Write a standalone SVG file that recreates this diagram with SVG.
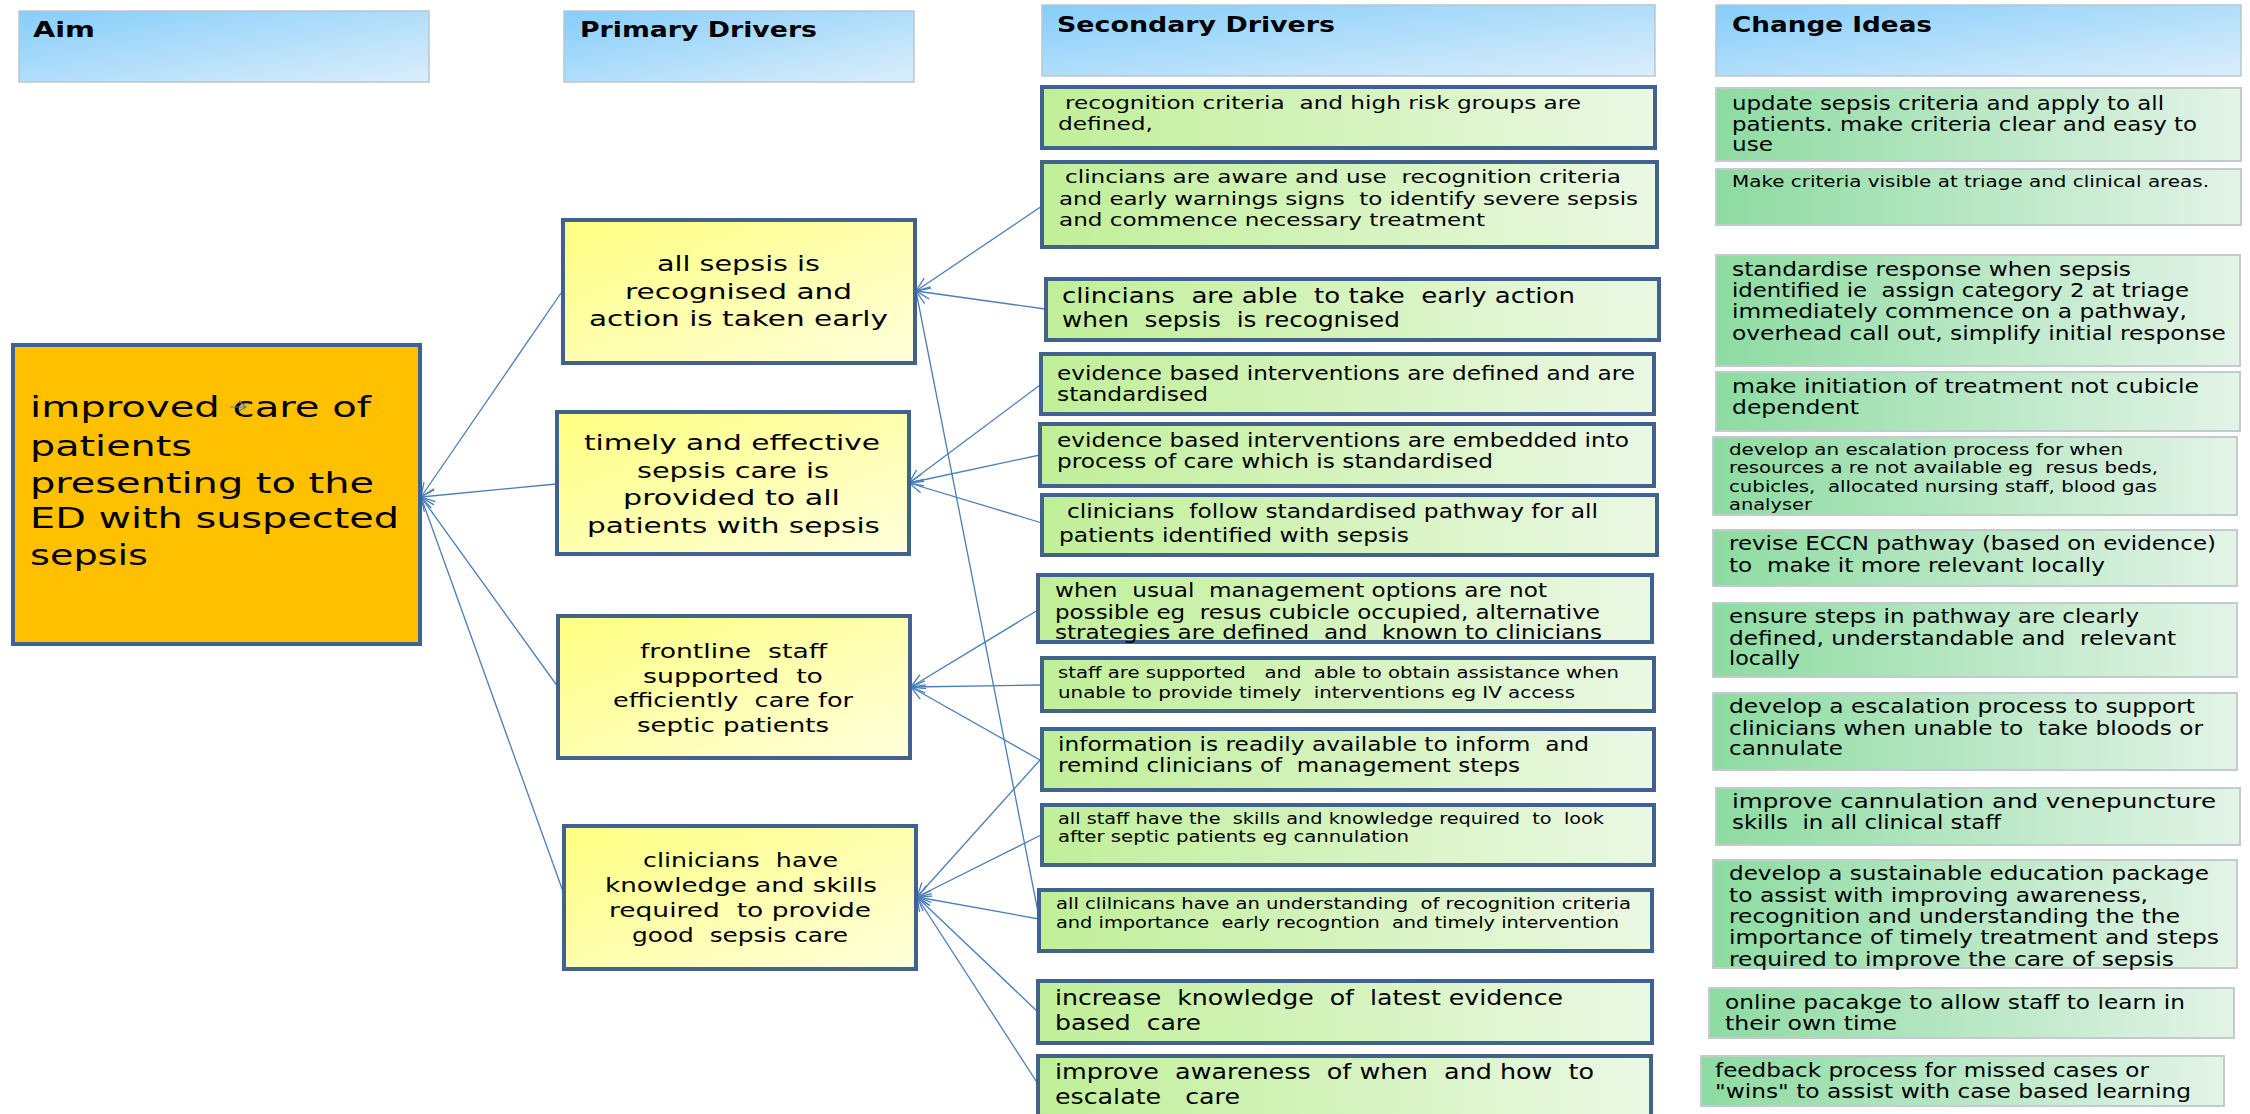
<svg xmlns="http://www.w3.org/2000/svg" width="2250" height="1114" viewBox="0 0 2250 1114">
<style>
text{font-family:"DejaVu Sans","Liberation Sans",sans-serif;fill:#000;white-space:pre}
.h{font-weight:bold;font-size:21px}
.hdr{fill:url(#gh);stroke:#b9c6cf;stroke-width:1.5}
.aim{fill:#ffc000;stroke:#41618f;stroke-width:4}
.pri{fill:url(#gp);stroke:#41618f;stroke-width:4}
.sec{fill:url(#gs);stroke:#41618f;stroke-width:4}
.chg{fill:url(#gc);stroke:#c3cbcf;stroke-width:2}
.c{fill:none;stroke:#4a7ebb;stroke-width:1.3;marker-end:url(#ah)}
</style>
<defs>
<linearGradient id="gh" x1="0" y1="0" x2="1" y2="1"><stop offset="0" stop-color="#86cdfa"/><stop offset="1" stop-color="#dbeefb"/></linearGradient>
<linearGradient id="gp" x1="0" y1="0" x2="1" y2="1"><stop offset="0" stop-color="#ffff80"/><stop offset="1" stop-color="#ffffdc"/></linearGradient>
<linearGradient id="gs" x1="0" y1="0" x2="1" y2="0"><stop offset="0" stop-color="#c0ef98"/><stop offset="1" stop-color="#ebf8e4"/></linearGradient>
<linearGradient id="gc" x1="0" y1="0" x2="1" y2="0"><stop offset="0" stop-color="#8ddba1"/><stop offset="1" stop-color="#e3f4e7"/></linearGradient>
<marker id="ah" markerUnits="userSpaceOnUse" markerWidth="16" markerHeight="14" viewBox="0 0 16 14" refX="15" refY="7" orient="auto"><path d="M1,1 L15,7 L1,13" fill="none" stroke="#4a7ebb" stroke-width="1.3"/></marker>
</defs>

<g id="connectors">
<line class="c" x1="561" y1="293" x2="421" y2="497"/>
<line class="c" x1="556" y1="484" x2="421" y2="497"/>
<line class="c" x1="558" y1="687" x2="421" y2="497"/>
<line class="c" x1="565" y1="897" x2="421" y2="497"/>
<line class="c" x1="1042" y1="206" x2="916" y2="291"/>
<line class="c" x1="1045" y1="309" x2="916" y2="291"/>
<line class="c" x1="1038" y1="912" x2="916" y2="291"/>
<line class="c" x1="1040" y1="385" x2="909" y2="483"/>
<line class="c" x1="1040" y1="455" x2="909" y2="483"/>
<line class="c" x1="1042" y1="523" x2="909" y2="483"/>
<line class="c" x1="1038" y1="610" x2="911" y2="687"/>
<line class="c" x1="1041" y1="685" x2="911" y2="687"/>
<line class="c" x1="1040" y1="760" x2="911" y2="687"/>
<line class="c" x1="1040" y1="760" x2="917" y2="897"/>
<line class="c" x1="1041" y1="835" x2="917" y2="897"/>
<line class="c" x1="1039" y1="919" x2="917" y2="897"/>
<line class="c" x1="1038" y1="1012" x2="917" y2="897"/>
<line class="c" x1="1038" y1="1084" x2="917" y2="897"/>
</g>

<g id="hdr-aim"><rect class="hdr" x="19" y="11" width="410" height="71"/><text class="h" x="33" y="37" textLength="62" lengthAdjust="spacingAndGlyphs">Aim</text></g>
<g id="hdr-primary"><rect class="hdr" x="564" y="11" width="350" height="71"/><text class="h" x="580" y="37" textLength="237" lengthAdjust="spacingAndGlyphs">Primary Drivers</text></g>
<g id="hdr-secondary"><rect class="hdr" x="1042" y="5" width="613" height="71"/><text class="h" x="1057" y="32" textLength="278" lengthAdjust="spacingAndGlyphs">Secondary Drivers</text></g>
<g id="hdr-change"><rect class="hdr" x="1716" y="5" width="525" height="71"/><text class="h" x="1732" y="32" textLength="200" lengthAdjust="spacingAndGlyphs">Change Ideas</text></g>

<g id="aim" font-size="29">
<rect class="aim" x="13" y="345" width="407" height="299"/>
<text x="30" y="417" textLength="341" lengthAdjust="spacingAndGlyphs">improved care of</text>
<text x="30" y="456" textLength="162" lengthAdjust="spacingAndGlyphs">patients</text>
<text x="30" y="493" textLength="344" lengthAdjust="spacingAndGlyphs">presenting to the</text>
<text x="30" y="528" textLength="369" lengthAdjust="spacingAndGlyphs">ED with suspected</text>
<text x="30" y="565" textLength="118" lengthAdjust="spacingAndGlyphs">sepsis</text>
<path d="M230,407 H246 M239,401 L246,407 L239,411" fill="none" stroke="#4a7ebb" stroke-width="1.2"/>
</g>

<g id="p1" font-size="21">
<rect class="pri" x="563" y="220" width="352" height="143"/>
<text x="657" y="271" textLength="163" lengthAdjust="spacingAndGlyphs">all sepsis is</text>
<text x="625" y="299" textLength="227" lengthAdjust="spacingAndGlyphs">recognised and</text>
<text x="589" y="326" textLength="299" lengthAdjust="spacingAndGlyphs">action is taken early</text>
</g>
<g id="p2" font-size="21">
<rect class="pri" x="557" y="412" width="352" height="142"/>
<text x="584" y="450" textLength="296" lengthAdjust="spacingAndGlyphs">timely and effective</text>
<text x="637" y="478" textLength="192" lengthAdjust="spacingAndGlyphs">sepsis care is</text>
<text x="623" y="505" textLength="217" lengthAdjust="spacingAndGlyphs">provided to all</text>
<text x="587" y="533" textLength="293" lengthAdjust="spacingAndGlyphs">patients with sepsis</text>
</g>
<g id="p3" font-size="20">
<rect class="pri" x="558" y="616" width="352" height="142"/>
<text x="640" y="658" textLength="187" lengthAdjust="spacingAndGlyphs">frontline  staff</text>
<text x="643" y="683" textLength="180" lengthAdjust="spacingAndGlyphs">supported  to</text>
<text x="613" y="707" textLength="240" lengthAdjust="spacingAndGlyphs">efficiently  care for</text>
<text x="637" y="732" textLength="192" lengthAdjust="spacingAndGlyphs">septic patients</text>
</g>
<g id="p4" font-size="20">
<rect class="pri" x="564" y="826" width="352" height="143"/>
<text x="643" y="867" textLength="195" lengthAdjust="spacingAndGlyphs">clinicians  have</text>
<text x="605" y="892" textLength="272" lengthAdjust="spacingAndGlyphs">knowledge and skills</text>
<text x="609" y="917" textLength="262" lengthAdjust="spacingAndGlyphs">required  to provide</text>
<text x="632" y="942" textLength="216" lengthAdjust="spacingAndGlyphs">good  sepsis care</text>
</g>

<g id="s1" font-size="18">
<rect class="sec" x="1042" y="87" width="613" height="61"/>
<text x="1065" y="109" textLength="516" lengthAdjust="spacingAndGlyphs">recognition criteria  and high risk groups are</text>
<text x="1058" y="130" textLength="95" lengthAdjust="spacingAndGlyphs">defined,</text>
</g>
<g id="s2" font-size="18">
<rect class="sec" x="1042" y="162" width="615" height="85"/>
<text x="1065" y="183" textLength="556" lengthAdjust="spacingAndGlyphs">clincians are aware and use  recognition criteria</text>
<text x="1059" y="205" textLength="579" lengthAdjust="spacingAndGlyphs">and early warnings signs  to identify severe sepsis</text>
<text x="1059" y="226" textLength="426" lengthAdjust="spacingAndGlyphs">and commence necessary treatment</text>
</g>
<g id="s3" font-size="21">
<rect class="sec" x="1046" y="279" width="613" height="61"/>
<text x="1062" y="303" textLength="513" lengthAdjust="spacingAndGlyphs">clincians  are able  to take  early action</text>
<text x="1062" y="327" textLength="338" lengthAdjust="spacingAndGlyphs">when  sepsis  is recognised</text>
</g>
<g id="s4" font-size="19">
<rect class="sec" x="1041" y="354" width="613" height="60"/>
<text x="1057" y="380" textLength="578" lengthAdjust="spacingAndGlyphs">evidence based interventions are defined and are</text>
<text x="1057" y="401" textLength="151" lengthAdjust="spacingAndGlyphs">standardised</text>
</g>
<g id="s5" font-size="19">
<rect class="sec" x="1040" y="424" width="614" height="62"/>
<text x="1057" y="447" textLength="572" lengthAdjust="spacingAndGlyphs">evidence based interventions are embedded into</text>
<text x="1057" y="468" textLength="436" lengthAdjust="spacingAndGlyphs">process of care which is standardised</text>
</g>
<g id="s6" font-size="19">
<rect class="sec" x="1042" y="495" width="615" height="60"/>
<text x="1067" y="518" textLength="531" lengthAdjust="spacingAndGlyphs">clinicians  follow standardised pathway for all</text>
<text x="1059" y="542" textLength="350" lengthAdjust="spacingAndGlyphs">patients identified with sepsis</text>
</g>
<g id="s7" font-size="19">
<rect class="sec" x="1038" y="575" width="614" height="67"/>
<text x="1055" y="597" textLength="492" lengthAdjust="spacingAndGlyphs">when  usual  management options are not</text>
<text x="1055" y="619" textLength="545" lengthAdjust="spacingAndGlyphs">possible eg  resus cubicle occupied, alternative</text>
<text x="1055" y="639" textLength="547" lengthAdjust="spacingAndGlyphs">strategies are defined  and  known to clinicians</text>
</g>
<g id="s8" font-size="16">
<rect class="sec" x="1042" y="658" width="612" height="53"/>
<text x="1058" y="678" textLength="561" lengthAdjust="spacingAndGlyphs">staff are supported   and  able to obtain assistance when</text>
<text x="1058" y="698" textLength="517" lengthAdjust="spacingAndGlyphs">unable to provide timely  interventions eg IV access</text>
</g>
<g id="s9" font-size="19">
<rect class="sec" x="1042" y="729" width="612" height="61"/>
<text x="1058" y="751" textLength="531" lengthAdjust="spacingAndGlyphs">information is readily available to inform  and</text>
<text x="1058" y="772" textLength="462" lengthAdjust="spacingAndGlyphs">remind clinicians of  management steps</text>
</g>
<g id="s10" font-size="15">
<rect class="sec" x="1042" y="805" width="612" height="60"/>
<text x="1058" y="824" textLength="546" lengthAdjust="spacingAndGlyphs">all staff have the  skills and knowledge required  to  look</text>
<text x="1058" y="842" textLength="351" lengthAdjust="spacingAndGlyphs">after septic patients eg cannulation</text>
</g>
<g id="s11" font-size="15">
<rect class="sec" x="1039" y="890" width="613" height="61"/>
<text x="1056" y="909" textLength="575" lengthAdjust="spacingAndGlyphs">all clilnicans have an understanding  of recognition criteria</text>
<text x="1056" y="928" textLength="563" lengthAdjust="spacingAndGlyphs">and importance  early recogntion  and timely intervention</text>
</g>
<g id="s12" font-size="21">
<rect class="sec" x="1038" y="981" width="614" height="62"/>
<text x="1055" y="1005" textLength="508" lengthAdjust="spacingAndGlyphs">increase  knowledge  of  latest evidence</text>
<text x="1055" y="1030" textLength="146" lengthAdjust="spacingAndGlyphs">based  care</text>
</g>
<g id="s13" font-size="21">
<rect class="sec" x="1038" y="1056" width="613" height="70"/>
<text x="1055" y="1079" textLength="539" lengthAdjust="spacingAndGlyphs">improve  awareness  of when  and how  to</text>
<text x="1055" y="1104" textLength="185" lengthAdjust="spacingAndGlyphs">escalate   care</text>
</g>

<g id="c1" font-size="19">
<rect class="chg" x="1716" y="88" width="525" height="73"/>
<text x="1732" y="110" textLength="432" lengthAdjust="spacingAndGlyphs">update sepsis criteria and apply to all</text>
<text x="1732" y="131" textLength="465" lengthAdjust="spacingAndGlyphs">patients. make criteria clear and easy to</text>
<text x="1732" y="151" textLength="41" lengthAdjust="spacingAndGlyphs">use</text>
</g>
<g id="c2" font-size="15">
<rect class="chg" x="1716" y="169" width="525" height="56"/>
<text x="1732" y="187" textLength="477" lengthAdjust="spacingAndGlyphs">Make criteria visible at triage and clinical areas.</text>
</g>
<g id="c3" font-size="19">
<rect class="chg" x="1716" y="255" width="524" height="111"/>
<text x="1732" y="276" textLength="399" lengthAdjust="spacingAndGlyphs">standardise response when sepsis</text>
<text x="1732" y="297" textLength="457" lengthAdjust="spacingAndGlyphs">identified ie  assign category 2 at triage</text>
<text x="1732" y="318" textLength="455" lengthAdjust="spacingAndGlyphs">immediately commence on a pathway,</text>
<text x="1732" y="340" textLength="494" lengthAdjust="spacingAndGlyphs">overhead call out, simplify initial response</text>
</g>
<g id="c4" font-size="19">
<rect class="chg" x="1716" y="372" width="524" height="59"/>
<text x="1732" y="393" textLength="467" lengthAdjust="spacingAndGlyphs">make initiation of treatment not cubicle</text>
<text x="1732" y="414" textLength="127" lengthAdjust="spacingAndGlyphs">dependent</text>
</g>
<g id="c5" font-size="15">
<rect class="chg" x="1713" y="437" width="524" height="78"/>
<text x="1729" y="455" textLength="394" lengthAdjust="spacingAndGlyphs">develop an escalation process for when</text>
<text x="1729" y="473" textLength="429" lengthAdjust="spacingAndGlyphs">resources a re not available eg  resus beds,</text>
<text x="1729" y="492" textLength="428" lengthAdjust="spacingAndGlyphs">cubicles,  allocated nursing staff, blood gas</text>
<text x="1729" y="510" textLength="83" lengthAdjust="spacingAndGlyphs">analyser</text>
</g>
<g id="c6" font-size="19">
<rect class="chg" x="1713" y="530" width="524" height="56"/>
<text x="1729" y="550" textLength="487" lengthAdjust="spacingAndGlyphs">revise ECCN pathway (based on evidence)</text>
<text x="1729" y="572" textLength="376" lengthAdjust="spacingAndGlyphs">to  make it more relevant locally</text>
</g>
<g id="c7" font-size="19">
<rect class="chg" x="1713" y="603" width="524" height="74"/>
<text x="1729" y="623" textLength="410" lengthAdjust="spacingAndGlyphs">ensure steps in pathway are clearly</text>
<text x="1729" y="645" textLength="447" lengthAdjust="spacingAndGlyphs">defined, understandable and  relevant</text>
<text x="1729" y="665" textLength="71" lengthAdjust="spacingAndGlyphs">locally</text>
</g>
<g id="c8" font-size="19">
<rect class="chg" x="1713" y="693" width="524" height="77"/>
<text x="1729" y="713" textLength="466" lengthAdjust="spacingAndGlyphs">develop a escalation process to support</text>
<text x="1729" y="735" textLength="474" lengthAdjust="spacingAndGlyphs">clinicians when unable to  take bloods or</text>
<text x="1729" y="755" textLength="114" lengthAdjust="spacingAndGlyphs">cannulate</text>
</g>
<g id="c9" font-size="19">
<rect class="chg" x="1716" y="788" width="524" height="57"/>
<text x="1732" y="808" textLength="484" lengthAdjust="spacingAndGlyphs">improve cannulation and venepuncture</text>
<text x="1732" y="829" textLength="269" lengthAdjust="spacingAndGlyphs">skills  in all clinical staff</text>
</g>
<g id="c10" font-size="19">
<rect class="chg" x="1713" y="860" width="524" height="108"/>
<text x="1729" y="880" textLength="480" lengthAdjust="spacingAndGlyphs">develop a sustainable education package</text>
<text x="1729" y="902" textLength="419" lengthAdjust="spacingAndGlyphs">to assist with improving awareness,</text>
<text x="1729" y="923" textLength="451" lengthAdjust="spacingAndGlyphs">recognition and understanding the the</text>
<text x="1729" y="944" textLength="490" lengthAdjust="spacingAndGlyphs">importance of timely treatment and steps</text>
<text x="1729" y="966" textLength="445" lengthAdjust="spacingAndGlyphs">required to improve the care of sepsis</text>
</g>
<g id="c11" font-size="19">
<rect class="chg" x="1709" y="988" width="525" height="50"/>
<text x="1725" y="1009" textLength="460" lengthAdjust="spacingAndGlyphs">online pacakge to allow staff to learn in</text>
<text x="1725" y="1030" textLength="172" lengthAdjust="spacingAndGlyphs">their own time</text>
</g>
<g id="c12" font-size="19">
<rect class="chg" x="1701" y="1056" width="523" height="50"/>
<text x="1715" y="1077" textLength="434" lengthAdjust="spacingAndGlyphs">feedback process for missed cases or</text>
<text x="1715" y="1098" textLength="476" lengthAdjust="spacingAndGlyphs">"wins" to assist with case based learning</text>
</g>
</svg>
